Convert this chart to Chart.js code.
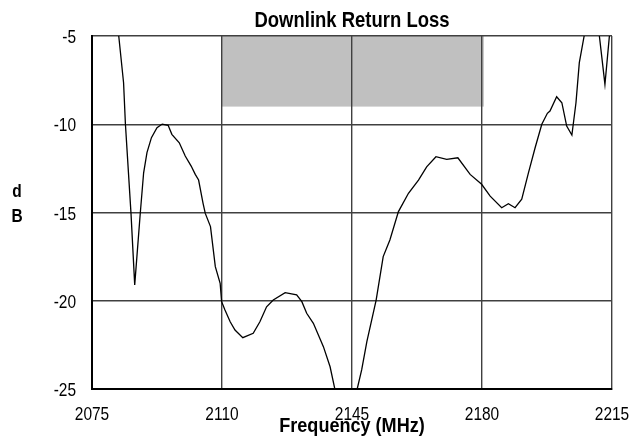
<!DOCTYPE html>
<html>
<head>
<meta charset="utf-8">
<script src="https://cdn.jsdelivr.net/npm/chart.js@4/dist/chart.umd.min.js"></script>
<style>
html,body{margin:0;padding:0;background:#fff;}
#wrap{width:642px;height:443px;position:relative;}
</style>
</head>
<body>
<div id="wrap"><canvas id="c" width="642" height="443"></canvas></div>
<script>
const chartTitle = "Downlink Return Loss";
const xTitle = "Frequency (MHz)";
const yTitleLines = ["d", "B"];
const xTicks = [2075, 2110, 2145, 2180, 2215];
const yTicks = [-25, -20, -15, -10, -5];
const freq = [2081.5,2082.2,2083.5,2084.0,2085.5,2086.5,2088.0,2088.9,2089.8,2091.0,2092.5,2093.9,2095.5,2096.5,2098.5,2100.1,2101.7,2102.8,2103.7,2104.9,2105.5,2106.9,2108.2,2109.5,2109.9,2110.8,2112.2,2113.5,2115.6,2118.4,2120.2,2122.0,2123.8,2127.0,2130.1,2131.5,2132.8,2134.6,2137.3,2139.1,2140.4,2143.4,2146.4,2147.6,2149.0,2151.5,2153.4,2155.2,2157.5,2160.2,2162.9,2165.1,2167.6,2170.5,2173.5,2176.8,2179.9,2182.2,2185.3,2187.1,2188.9,2190.7,2192.5,2194.3,2196.1,2197.6,2198.3,2200.1,2201.5,2202.8,2204.2,2205.3,2206.2,2207.5,2209.5,2211.6,2213.1,2214.3,2215.0];
const returnLoss = [-3.0,-5.0,-7.65,-10.0,-15.05,-19.1,-15.03,-12.75,-11.61,-10.76,-10.2,-9.99,-10.06,-10.57,-11.05,-11.8,-12.37,-12.84,-13.16,-14.48,-15.05,-15.8,-18.07,-19.01,-20.05,-20.52,-21.19,-21.66,-22.09,-21.84,-21.19,-20.34,-19.96,-19.54,-19.67,-20.05,-20.71,-21.28,-22.6,-23.74,-25.02,-28.5,-25.0,-23.92,-22.32,-19.96,-17.5,-16.56,-14.95,-13.91,-13.16,-12.41,-11.84,-11.99,-11.9,-12.84,-13.4,-14.07,-14.73,-14.5,-14.73,-14.25,-12.75,-11.33,-10.0,-9.38,-9.25,-8.44,-8.78,-10.1,-10.61,-8.78,-6.51,-5.0,-3.5,-5.0,-7.74,-5.0,-4.0];
const bandFreq = [2110, 2180.5];
const bandLevel = [-5, -9];

const FONT = "'Liberation Sans',Arial,sans-serif";

const points = freq.map((f, i) => ({x: f, y: returnLoss[i]}));

function narrowText(ctx, text, x, y, sx, align) {
  ctx.save();
  ctx.translate(x, y);
  ctx.scale(sx, 1);
  ctx.textAlign = align;
  ctx.fillText(text, 0, 0);
  ctx.restore();
}

const bandPlugin = {
  id: 'band',
  beforeDraw(chart) {
    const {ctx, scales: {x, y}} = chart;
    const x0 = x.getPixelForValue(bandFreq[0]);
    const x1 = x.getPixelForValue(bandFreq[1]);
    const y0 = y.getPixelForValue(bandLevel[0]);
    const y1 = y.getPixelForValue(bandLevel[1]);
    ctx.save();
    ctx.fillStyle = '#c0c0c0';
    ctx.fillRect(x0, y0, x1 - x0, y1 - y0);
    ctx.restore();
  }
};

const textPlugin = {
  id: 'texts',
  afterDraw(chart) {
    const {ctx, chartArea, scales: {x, y}} = chart;
    const cx = (chartArea.left + chartArea.right) / 2;
    ctx.save();
    ctx.fillStyle = '#000';
    ctx.textBaseline = 'alphabetic';
    ctx.font = "18px " + FONT;
    xTicks.forEach(v => narrowText(ctx, String(v), x.getPixelForValue(v), 420, 0.86, 'center'));
    yTicks.forEach(v => narrowText(ctx, String(v), 76, y.getPixelForValue(v) + 7, 0.86, 'right'));
    ctx.font = "bold 22px " + FONT;
    narrowText(ctx, chartTitle, cx, 27, 0.84, 'center');
    ctx.font = "bold 21px " + FONT;
    narrowText(ctx, xTitle, cx, 432, 0.86, 'center');
    ctx.font = "bold 18px " + FONT;
    narrowText(ctx, yTitleLines[0], 17, 197, 0.86, 'center');
    narrowText(ctx, yTitleLines[1], 17, 222, 0.86, 'center');
    ctx.restore();
  }
};

new Chart(document.getElementById('c'), {
  type: 'line',
  data: {
    datasets: [{
      data: points,
      borderColor: '#000',
      borderWidth: 1.3,
      pointRadius: 0,
      tension: 0,
      fill: false
    }]
  },
  options: {
    responsive: false,
    animation: false,
    devicePixelRatio: 1,
    layout: {padding: {left: 0, right: 30, top: 36, bottom: 0}},
    plugins: {legend: {display: false}, tooltip: {enabled: false}, title: {display: false}},
    scales: {
      x: {
        type: 'linear',
        min: xTicks[0], max: xTicks[xTicks.length - 1],
        afterBuildTicks(s) { s.ticks = xTicks.map(v => ({value: v})); },
        afterFit(s) { s.height = 54; },
        ticks: {display: false},
        grid: {color: '#404040', lineWidth: 1.4, drawTicks: false},
        border: {color: '#000', width: 2}
      },
      y: {
        type: 'linear',
        min: yTicks[0], max: yTicks[yTicks.length - 1],
        afterBuildTicks(s) { s.ticks = yTicks.map(v => ({value: v})); },
        afterFit(s) { s.width = 92; },
        ticks: {display: false},
        grid: {color: '#404040', lineWidth: 1.4, drawTicks: false},
        border: {color: '#000', width: 2}
      }
    }
  },
  plugins: [bandPlugin, textPlugin]
});
</script>
</body>
</html>
